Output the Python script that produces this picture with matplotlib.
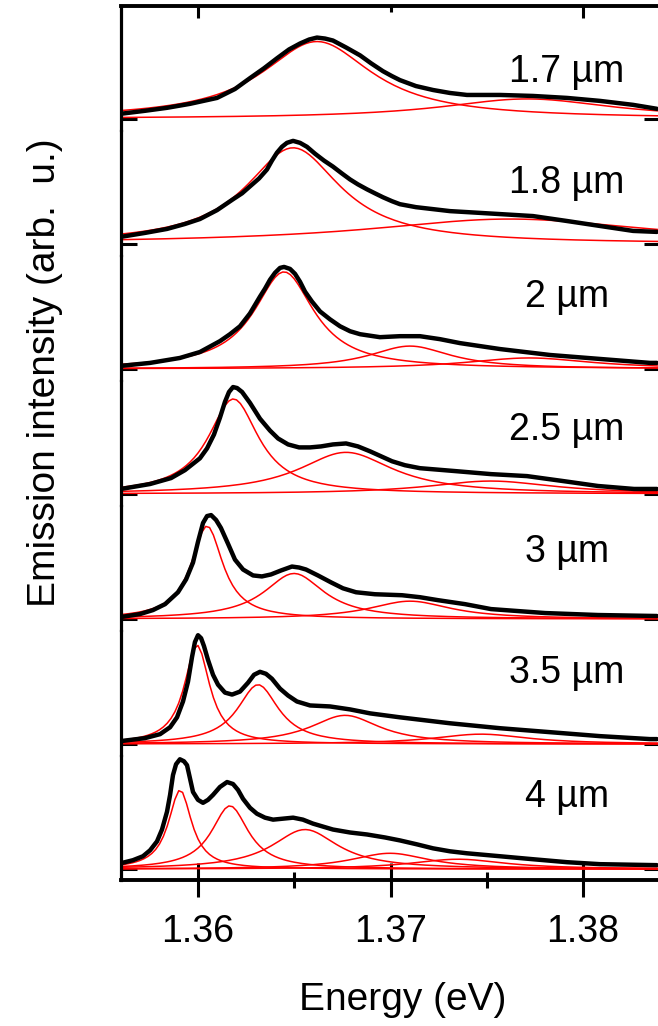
import matplotlib
matplotlib.use('Agg')
import matplotlib.pyplot as plt
import numpy as np

plt.rcParams['font.family'] = ['Liberation Sans', 'DejaVu Sans']

# ---------------- data ----------------
labels = ['1.7 µm', '1.8 µm', '2 µm', '2.5 µm', '3 µm', '3.5 µm', '4 µm']

# measured spectra (black), energy in eV, intensity in arb. u.
e_17 = [1.3560, 1.35725, 1.35839, 1.35958, 1.36099, 1.36192, 1.36270, 1.36343, 1.36410, 1.36473,
        1.36530, 1.36577, 1.36618, 1.36660, 1.36701, 1.36769, 1.36842, 1.36899, 1.36961, 1.37008,
        1.37049, 1.37132, 1.37221, 1.37309, 1.37397, 1.37569, 1.37740, 1.37917, 1.38088, 1.38260,
        1.38384]
i_17 = [0.05, 0.08, 0.11, 0.15, 0.21, 0.30, 0.41, 0.51, 0.61, 0.70,
        0.76, 0.80, 0.82, 0.81, 0.79, 0.72, 0.64, 0.56, 0.48, 0.43,
        0.39, 0.33, 0.29, 0.26, 0.24, 0.24, 0.23, 0.21, 0.18, 0.14,
        0.10]

e_18 = [1.3560, 1.35725, 1.35839, 1.35932, 1.36010, 1.36099, 1.36182, 1.36229, 1.36270, 1.36317,
        1.36358, 1.36384, 1.36410, 1.36436, 1.36462, 1.36494, 1.36530, 1.36566, 1.36608, 1.36655,
        1.36701, 1.36748, 1.36790, 1.36831, 1.36878, 1.36919, 1.36961, 1.37008, 1.37049, 1.37132,
        1.37221, 1.37309, 1.37397, 1.37569, 1.37740, 1.37917, 1.38088, 1.38260, 1.38384]
i_18 = [0.07, 0.11, 0.15, 0.20, 0.25, 0.34, 0.45, 0.51, 0.58, 0.66,
        0.75, 0.84, 0.92, 0.98, 1.02, 1.04, 1.02, 0.98, 0.91, 0.84,
        0.78, 0.71, 0.65, 0.60, 0.55, 0.51, 0.47, 0.43, 0.40, 0.37,
        0.35, 0.33, 0.32, 0.30, 0.28, 0.23, 0.18, 0.13, 0.12]

e_20 = [1.3560, 1.35751, 1.35906, 1.36010, 1.36114, 1.36166, 1.36218, 1.36270, 1.36322, 1.36348,
        1.36374, 1.36400, 1.36426, 1.36447, 1.36478, 1.36504, 1.36530, 1.36556, 1.36592, 1.36634,
        1.36686, 1.36738, 1.36790, 1.36842, 1.36945, 1.37049, 1.37153, 1.37257, 1.37361, 1.37465,
        1.37569, 1.37829, 1.38088, 1.38348, 1.38384]
i_20 = [0.03, 0.06, 0.11, 0.17, 0.28, 0.35, 0.43, 0.56, 0.73, 0.81,
        0.90, 0.97, 1.02, 1.03, 1.01, 0.96, 0.88, 0.78, 0.68, 0.58,
        0.50, 0.43, 0.38, 0.35, 0.32, 0.33, 0.33, 0.30, 0.26, 0.23,
        0.20, 0.14, 0.10, 0.06, 0.06]

e_25 = [1.3560, 1.35751, 1.35860, 1.35932, 1.36010, 1.36047, 1.36083, 1.36114, 1.36140, 1.36161,
        1.36182, 1.36203, 1.36229, 1.36270, 1.36322, 1.36374, 1.36416, 1.36468, 1.36525, 1.36582,
        1.36639, 1.36701, 1.36769, 1.36831, 1.36894, 1.36951, 1.37008, 1.37075, 1.37153, 1.37340,
        1.37522, 1.37709, 1.37896, 1.38078, 1.38265, 1.38384]
i_25 = [0.05, 0.10, 0.16, 0.24, 0.36, 0.46, 0.60, 0.77, 0.93, 1.03,
        1.08, 1.07, 1.03, 0.92, 0.76, 0.64, 0.56, 0.50, 0.47, 0.47,
        0.48, 0.50, 0.51, 0.48, 0.43, 0.38, 0.33, 0.29, 0.26, 0.23,
        0.20, 0.18, 0.13, 0.08, 0.05, 0.05]

e_30 = [1.3560, 1.35699, 1.35766, 1.35829, 1.35896, 1.35938, 1.35974, 1.36000, 1.36026, 1.36047,
        1.36068, 1.36094, 1.36119, 1.36156, 1.36192, 1.36234, 1.36286, 1.36332, 1.36379, 1.36431,
        1.36488, 1.36525, 1.36561, 1.36623, 1.36691, 1.36753, 1.36821, 1.36919, 1.37060, 1.37153,
        1.37247, 1.37387, 1.37522, 1.37662, 1.37803, 1.38078, 1.38384]
i_30 = [0.02, 0.05, 0.09, 0.15, 0.27, 0.40, 0.57, 0.78, 0.97, 1.04,
        1.05, 1.00, 0.92, 0.76, 0.60, 0.50, 0.44, 0.43, 0.45, 0.49,
        0.53, 0.52, 0.50, 0.44, 0.37, 0.31, 0.27, 0.25, 0.24, 0.22,
        0.19, 0.15, 0.10, 0.08, 0.06, 0.04, 0.03]

e_35 = [1.3560, 1.35725, 1.35803, 1.35855, 1.35891, 1.35922, 1.35948, 1.35969, 1.35984, 1.36000,
        1.36016, 1.36031, 1.36052, 1.36078, 1.36104, 1.36140, 1.36177, 1.36218, 1.36260, 1.36291,
        1.36322, 1.36353, 1.36384, 1.36426, 1.36468, 1.36514, 1.36582, 1.36686, 1.36790, 1.36894,
        1.37049, 1.37309, 1.37569, 1.37829, 1.38088, 1.38348, 1.38384]
i_35 = [0.03, 0.06, 0.10, 0.17, 0.27, 0.43, 0.63, 0.88, 1.03, 1.10,
        1.07, 0.99, 0.85, 0.70, 0.60, 0.52, 0.50, 0.53, 0.62, 0.70,
        0.73, 0.71, 0.66, 0.56, 0.49, 0.43, 0.39, 0.38, 0.35, 0.31,
        0.27, 0.21, 0.16, 0.12, 0.08, 0.05, 0.05]

e_40 = [1.3560, 1.35662, 1.35714, 1.35751, 1.35787, 1.35813, 1.35839, 1.35855, 1.35870, 1.35886,
        1.35906, 1.35927, 1.35943, 1.35958, 1.35974, 1.36000, 1.36026, 1.36052, 1.36078, 1.36114,
        1.36151, 1.36182, 1.36208, 1.36234, 1.36270, 1.36306, 1.36348, 1.36390, 1.36442, 1.36494,
        1.36545, 1.36597, 1.36649, 1.36701, 1.36790, 1.36878, 1.36971, 1.37049, 1.37138, 1.37221,
        1.37309, 1.37397, 1.37569, 1.37740, 1.37917, 1.38088, 1.38384]
i_40 = [0.06, 0.09, 0.13, 0.19, 0.28, 0.40, 0.58, 0.75, 0.95, 1.06,
        1.11, 1.09, 1.05, 0.92, 0.78, 0.70, 0.67, 0.70, 0.75, 0.83,
        0.88, 0.86, 0.80, 0.71, 0.62, 0.56, 0.52, 0.50, 0.51, 0.52,
        0.50, 0.46, 0.43, 0.40, 0.37, 0.35, 0.32, 0.29, 0.25, 0.21,
        0.18, 0.16, 0.13, 0.10, 0.07, 0.05, 0.04]

spectra_e = [e_17, e_18, e_20, e_25, e_30, e_35, e_40]
spectra_i = [i_17, i_18, i_20, i_25, i_30, i_35, i_40]

# Lorentzian fit components (red): centre (eV), height, half width (eV)
fit_centers = [[1.36618, 1.3771],
               [1.36494, 1.3762],
               [1.36447, 1.37101, 1.3772],
               [1.36184, 1.36769, 1.3752],
               [1.36047, 1.36499, 1.37101],
               [1.35995, 1.36312, 1.36764, 1.3747],
               [1.35907, 1.36166, 1.36556, 1.36997, 1.3735]]
fit_heights = [[0.78, 0.20],
               [0.97, 0.25],
               [0.98, 0.23, 0.11],
               [0.96, 0.42, 0.13],
               [0.94, 0.46, 0.18],
               [1.00, 0.60, 0.29, 0.10],
               [0.80, 0.64, 0.40, 0.16, 0.10]]
fit_widths = [[0.0035, 0.0055],
              [0.0030, 0.0090],
              [0.0019, 0.0026, 0.0040],
              [0.0016, 0.0030, 0.0040],
              [0.0010, 0.0019, 0.0026],
              [0.0008, 0.0013, 0.0022, 0.0030],
              [0.00073, 0.00117, 0.0021, 0.0025, 0.0030]]

major_ticks = [1.36, 1.37, 1.38]
major_labels = ['1.36', '1.37', '1.38']
minor_ticks = [1.365, 1.375]

# ---------------- layout ----------------
W, H = 658, 1026
fig = plt.figure(figsize=(W / 100, H / 100), dpi=100)
left_px, right_px, top_px, bot_px = 121, 660, 6, 880
n = len(labels)
gs = fig.add_gridspec(n, 1, hspace=0.012, left=left_px / W, right=right_px / W,
                      top=1 - top_px / H, bottom=1 - bot_px / H)
axes = [fig.add_subplot(gs[k, 0]) for k in range(n)]

grid = np.linspace(1.356, 1.384, 141)
label_y_px = [72, 183, 297, 430, 552, 673, 797]

for k, ax in enumerate(axes):
    for c, h, g in zip(fit_centers[k], fit_heights[k], fit_widths[k]):
        ax.plot(grid, h / (1 + ((grid - c) / g) ** 2), color='#ff0000', lw=1.1, zorder=2)
    ax.plot(spectra_e[k], spectra_i[k], color='black', lw=3.2, zorder=3,
            solid_joinstyle='round', solid_capstyle='round')
    ax.set_xlim(1.356, 1.384)
    ax.set_ylim(-0.11, 1.139)
    ax.set_yticks([0])
    ax.tick_params(axis='y', which='major', left=True, right=True, direction='in',
                   length=11.5, width=2.2, labelleft=False, labelright=False)
    for sp in ['left', 'right']:
        ax.spines[sp].set_linewidth(2.3)
    ax.spines['top'].set_visible(k == 0)
    ax.spines['bottom'].set_visible(k == n - 1)
    ax.spines['top'].set_linewidth(2.8)
    ax.spines['bottom'].set_linewidth(2.8)
    ax.patch.set_visible(False)
    fig.text(567 / W, 1 - label_y_px[k] / H, labels[k], fontsize=27,
             ha='center', va='center')
    if 0 < k < n - 1:
        ax.set_xticks([])

# top panel: inward ticks on the top spine
axt = axes[0]
axt.set_xticks([major_ticks[0], major_ticks[2]])
axt.set_xticks([major_ticks[1]], minor=True)
axt.tick_params(axis='x', which='major', bottom=False, top=True, direction='in',
                labelbottom=False, labeltop=False, length=8.6, width=2.2)
axt.tick_params(axis='x', which='minor', bottom=False, top=True, direction='in',
                labelbottom=False, labeltop=False, length=4.5, width=2.2)

# bottom panel: energy axis
axb = axes[-1]
axb.set_xticks(major_ticks)
axb.set_xticks(minor_ticks, minor=True)
axb.set_xticklabels(major_labels)
axb.tick_params(axis='x', which='major', bottom=True, top=False, direction='inout',
                length=24.5, width=2.2, labelsize=27, pad=12)
axb.tick_params(axis='x', which='minor', bottom=True, top=False, direction='inout',
                length=11.5, width=2.2)

fig.text(403 / W, 1 - 1000 / H, 'Energy (eV)', fontsize=28, ha='center', va='center')
fig.text(45 / W, 1 - 373 / H, 'Emission intensity (arb.  u.)', fontsize=28,
         ha='center', va='center', rotation=90)

fig.savefig('out.png', dpi=100)
